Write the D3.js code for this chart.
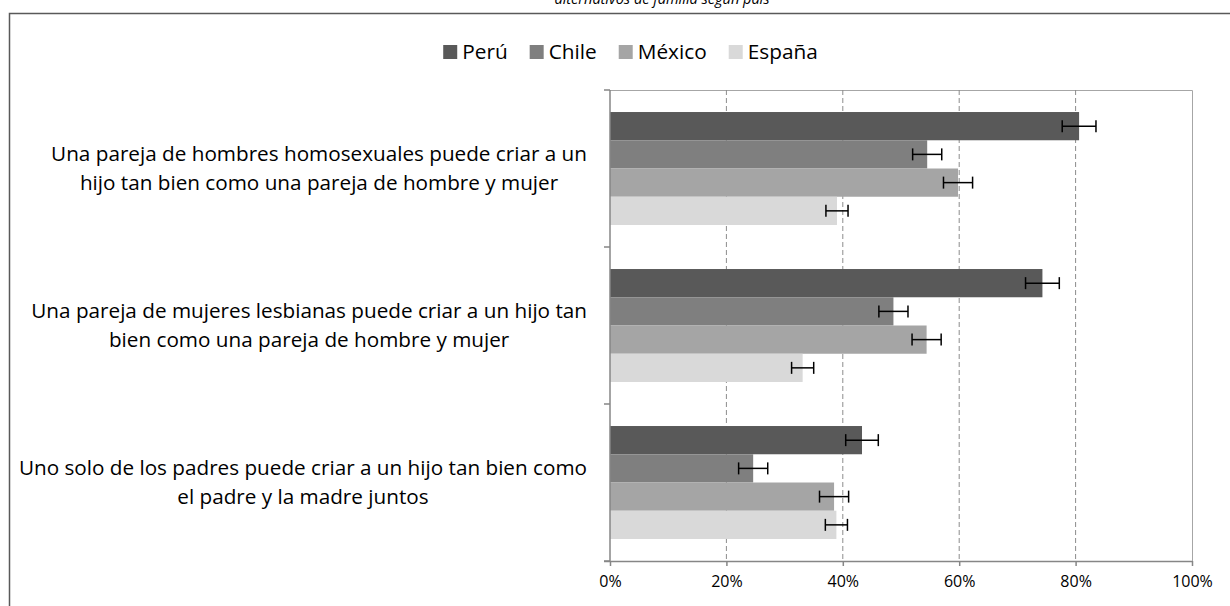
<!DOCTYPE html>
<html>
<head>
<meta charset="utf-8">
<script src="https://cdn.jsdelivr.net/npm/d3@7"></script>
<style>
  body { margin: 0; background: #fff; }
  svg { display: block; font-family: "Open Sans", Lato, sans-serif; }
</style>
</head>
<body>
<script>
// Data (percent)
const categories = [
  ["Una pareja de hombres homosexuales puede criar a un", "hijo tan bien como una pareja de hombre y mujer"],
  ["Una pareja de mujeres lesbianas puede criar a un hijo tan", "bien como una pareja de hombre y mujer"],
  ["Uno solo de los padres puede criar a un hijo tan bien como", "el padre y la madre juntos"]
];
const seriesNames = ["Perú", "Chile", "México", "España"];
const peru = [80.6, 74.3, 43.3];
const chile = [54.5, 48.7, 24.6];
const mexico = [59.8, 54.4, 38.5];
const espana = [39.0, 33.1, 38.9];
const peruErr = [2.9, 2.9, 2.8];
const chileErr = [2.5, 2.5, 2.5];
const mexicoErr = [2.5, 2.5, 2.5];
const espanaErr = [1.9, 1.9, 1.9];
const xTicks = [0, 20, 40, 60, 80, 100];
const colors = ["#595959", "#7f7f7f", "#a5a5a5", "#d9d9d9"];
const titleText = "alternativos de familia según país";

const values = [peru, chile, mexico, espana];
const errors = [peruErr, chileErr, mexicoErr, espanaErr];

const W = 1230, H = 606;
const plot = { left: 610, right: 1192, top: 90, bottom: 561 };

const svg = d3.select("body").append("svg")
  .attr("width", W)
  .attr("height", H);

// title, cut by the top of the frame as in the source
svg.append("text")
  .attr("x", 662)
  .attr("y", 3.5)
  .attr("text-anchor", "middle")
  .style("font-style", "italic")
  .style("font-size", "14.5px")
  .attr("fill", "#000")
  .text(titleText);

// outer chart frame
svg.append("path")
  .attr("d", `M9.5,${H} V13.5 H${W}`)
  .attr("fill", "none")
  .attr("stroke", "#595959")
  .attr("stroke-width", 1.5);

const x = d3.scaleLinear().domain([0, 100]).range([plot.left, plot.right]);
const catIdx = categories.map((_, i) => i);
const y = d3.scaleBand().domain(catIdx).range([plot.top, plot.bottom]);
const yInner = d3.scaleBand().domain(seriesNames)
  .range([0, y.bandwidth()]).paddingOuter(0.78);

// plot area frame (top and right)
svg.append("path")
  .attr("d", `M${plot.left},${plot.top + 0.5} H${plot.right + 0.5} V${plot.bottom}`)
  .attr("fill", "none")
  .attr("stroke", "#a6a6a6")
  .attr("stroke-width", 1);

// dashed vertical gridlines
svg.append("g")
  .selectAll("line")
  .data(xTicks.filter((t) => t > 0 && t < 100))
  .join("line")
  .attr("x1", (d) => x(d)).attr("x2", (d) => x(d))
  .attr("y1", plot.top).attr("y2", plot.bottom)
  .attr("stroke", "#8c8c8c")
  .attr("stroke-width", 1)
  .attr("stroke-dasharray", "5,3");

// bars
const groups = svg.append("g")
  .selectAll("g")
  .data(catIdx)
  .join("g")
  .attr("transform", (i) => `translate(0,${y(i)})`);

const rows = (i) => seriesNames.map((s, k) => ({ s, k, v: values[k][i], e: errors[k][i] }));

groups.selectAll("rect")
  .data(rows)
  .join("rect")
  .attr("x", x(0))
  .attr("y", (d) => yInner(d.s))
  .attr("width", (d) => x(d.v) - x(0))
  .attr("height", yInner.bandwidth())
  .attr("fill", (d) => colors[d.k]);

// error bars
const err = groups.selectAll("g.err")
  .data(rows)
  .join("g")
  .attr("class", "err")
  .attr("stroke", "#000")
  .attr("stroke-width", 1.5);

err.append("line")
  .attr("x1", (d) => x(d.v - d.e)).attr("x2", (d) => x(d.v + d.e))
  .attr("y1", (d) => yInner(d.s) + yInner.bandwidth() / 2)
  .attr("y2", (d) => yInner(d.s) + yInner.bandwidth() / 2);
err.selectAll("line.cap")
  .data((d) => [d.v - d.e, d.v + d.e].map((p) => ({ p, d })))
  .join("line")
  .attr("class", "cap")
  .attr("x1", (c) => x(c.p)).attr("x2", (c) => x(c.p))
  .attr("y1", (c) => yInner(c.d.s) + yInner.bandwidth() / 2 - 6)
  .attr("y2", (c) => yInner(c.d.s) + yInner.bandwidth() / 2 + 6);

// x axis
const xAxis = svg.append("g")
  .attr("transform", `translate(0,${plot.bottom})`)
  .call(d3.axisBottom(x).tickValues(xTicks).tickSize(5).tickPadding(10)
    .tickFormat((d) => d + "%"));
xAxis.select(".domain").attr("stroke", "#868686").attr("stroke-width", 1.5)
  .attr("d", `M${plot.left - 6},0.5H${plot.right}`);
xAxis.selectAll(".tick line").attr("stroke", "#868686").attr("stroke-width", 1.5);
xAxis.selectAll(".tick text")
  .style("font-family", "'Open Sans', sans-serif")
  .style("font-size", "16px")
  .attr("fill", "#000");

// y axis line and category ticks
svg.append("line")
  .attr("x1", plot.left).attr("x2", plot.left)
  .attr("y1", plot.top).attr("y2", plot.bottom)
  .attr("stroke", "#868686").attr("stroke-width", 1.5);
svg.append("g")
  .selectAll("line")
  .data([...catIdx.map((i) => y(i)), plot.bottom])
  .join("line")
  .attr("x1", plot.left - 6).attr("x2", plot.left)
  .attr("y1", (d) => d).attr("y2", (d) => d)
  .attr("stroke", "#868686").attr("stroke-width", 1.5);

// category labels: block right-aligned, lines centered within the block
const labelRight = 587, lineGap = 29;
catIdx.forEach((i) => {
  const t = svg.append("text")
    .style("font-size", "20.7px")
    .attr("fill", "#000")
    .attr("text-anchor", "middle");
  const spans = t.selectAll("tspan")
    .data(categories[i])
    .join("tspan")
    .text((d) => d);
  const maxW = d3.max(spans.nodes(), (n) => n.getComputedTextLength());
  const cy = y(i) + y.bandwidth() / 2;
  spans
    .attr("x", labelRight - maxW / 2)
    .attr("y", (d, j) => cy + (j - (categories[i].length - 1) / 2) * lineGap)
    .attr("dy", "0.35em");
});

// legend
const legend = svg.append("g");
let lx = 0;
seriesNames.forEach((s, k) => {
  const g = legend.append("g").attr("transform", `translate(${lx},0)`);
  g.append("rect")
    .attr("x", 0).attr("y", -7)
    .attr("width", 14).attr("height", 14)
    .attr("fill", colors[k]);
  const t = g.append("text")
    .attr("x", 19).attr("y", 0).attr("dy", "0.35em")
    .style("font-size", "20.8px")
    .attr("fill", "#000")
    .text(s);
  lx += 19 + t.node().getComputedTextLength() + 22;
});
const legendW = lx - 22;
legend.attr("transform", `translate(${630.5 - legendW / 2},52)`);
</script>
</body>
</html>
